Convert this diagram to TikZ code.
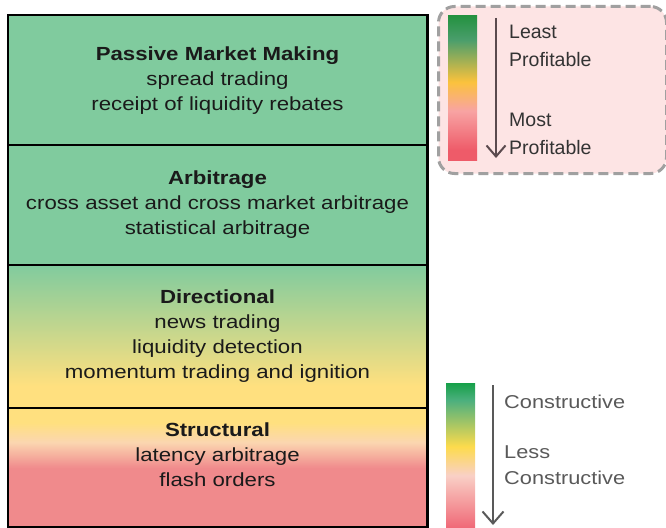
\documentclass[tikz,border=0pt]{standalone}
\usepackage{fontspec}
\setmainfont{Liberation Sans}
\newfontfamily\widefont{Liberation Sans}[FakeStretch=1.17]
\usetikzlibrary{arrows.meta,calc}
\definecolor{ink}{HTML}{1A1A1A}
\definecolor{keyink}{HTML}{333333}
\definecolor{keygray}{HTML}{595959}
\definecolor{secgreen}{HTML}{80CB9E}
\definecolor{secyellow}{HTML}{FFE07F}
\definecolor{secpeach}{HTML}{FBD6B0}
\definecolor{secpink}{HTML}{F08A8C}
\definecolor{legpink}{HTML}{FDE4E4}
\definecolor{dashgray}{HTML}{A0A0A0}
\definecolor{arrowbrown}{HTML}{5B4A4E}
\definecolor{barred}{HTML}{EE5B69}
\definecolor{barpink}{HTML}{F8A3A3}
\definecolor{baryellow}{HTML}{FBC23C}
\definecolor{barteal}{HTML}{4A9E6C}
\definecolor{bargreen}{HTML}{23913F}
\definecolor{cbred}{HTML}{F06A78}
\definecolor{cblight}{HTML}{F9D0C6}
\definecolor{cbyellow}{HTML}{FDDB4C}
\definecolor{cbteal}{HTML}{4DB07E}
\definecolor{cbgreen}{HTML}{16A04A}
% gradients, bottom to top
\pgfdeclareverticalshading{dirshade}{100bp}{color(0bp)=(secyellow); color(32.7bp)=(secyellow); color(75bp)=(secgreen); color(100bp)=(secgreen)}
\pgfdeclareverticalshading{strshade}{100bp}{color(0bp)=(secpink); color(49.6bp)=(secpink); color(60.5bp)=(secpeach); color(68.7bp)=(secyellow); color(100bp)=(secyellow)}
\pgfdeclareverticalshading{profshade}{100bp}{color(0bp)=(barred); color(28.5bp)=(barred); color(42bp)=(barpink); color(52bp)=(baryellow); color(66.5bp)=(barteal); color(75bp)=(bargreen); color(100bp)=(bargreen)}
\pgfdeclareverticalshading{consshade}{100bp}{color(0bp)=(cbred); color(25bp)=(cbred); color(43bp)=(cblight); color(53bp)=(cbyellow); color(69bp)=(cbteal); color(75bp)=(cbgreen); color(100bp)=(cbgreen)}
\tikzset{
  sect/.style={draw=black, line width=1.5pt, minimum width=419pt, inner sep=0pt, anchor=north},
  tier/.style={text=ink, align=center, font=\widefont\fontsize{19}{25}\selectfont},
  bar/.style={minimum width=29pt, inner sep=0pt, anchor=north},
  legbox/.style={draw=dashgray, fill=legpink, line width=3pt, dash pattern=on 10pt off 5pt, rounded corners=16pt, inner sep=0pt, anchor=north west},
  profkey/.style={text=keyink, align=left, anchor=west, inner sep=0pt, font=\fontsize{19.5}{28}\selectfont},
  conskey/.style={text=keygray, align=left, anchor=west, inner sep=0pt, font=\widefont\fontsize{18.6}{26}\selectfont},
  profarrow/.style={draw=arrowbrown, line width=2pt, -{Straight Barb[length=11pt,width=19pt]}},
  consarrow/.style={draw=keygray, line width=2pt, -{Straight Barb[length=12pt,width=21pt]}},
}
\begin{document}
\begin{tikzpicture}[x=1pt,y=-1pt]
  \useasboundingbox (0,0) rectangle (666,527);
  % tiers
  \node[sect, fill=secgreen, minimum height=129pt] (pmm) at (217.5,15) {};
  \node[sect, fill=secgreen, minimum height=120pt] (arb) at (217.5,144) {};
  \node[sect, shading=dirshade, minimum height=143pt] (dir) at (217.5,264) {};
  \node[sect, shading=strshade, minimum height=119pt] (str) at (217.5,407) {};
  \draw[line width=1.5pt] (pmm.north west) rectangle (str.south east);
  \node[tier] (pmmtxt) at (pmm.center) {\textbf{Passive Market Making}\\spread trading\\receipt of liquidity rebates};
  \node[tier] (arbtxt) at (arb.center) {\textbf{Arbitrage}\\cross asset and cross market arbitrage\\statistical arbitrage};
  \node[tier] (dirtxt) at (dir.center) {\textbf{Directional}\\news trading\\liquidity detection\\momentum trading and ignition};
  \node[tier] (strtxt) at ($(str.north)+(0,48)$) {\textbf{Structural}\\latency arbitrage\\flash orders};
  % profitability key
  \node[legbox, minimum width=228pt, minimum height=167pt] (proflegend) at (437,5) {};
  \node[bar, shading=profshade, minimum height=145pt] (profbar) at (462.5,15) {};
  \coordinate (proftop) at (496,18);
  \coordinate (profbot) at (496,158);
  \draw[profarrow] (proftop) -- (profbot);
  \node[profkey] (least) at (509,46) {Least\\Profitable};
  \node[profkey] (most) at (509,134) {Most\\Profitable};
  % constructiveness key
  \node[bar, shading=consshade, minimum height=144pt] (consbar) at (460.5,383) {};
  \coordinate (constop) at (493,385);
  \coordinate (consbot) at (493,525);
  \draw[consarrow] (constop) -- (consbot);
  \node[conskey] (cons) at (504,402) {Constructive};
  \node[conskey] (lesscons) at (504,465) {Less\\Constructive};
\end{tikzpicture}
\end{document}
